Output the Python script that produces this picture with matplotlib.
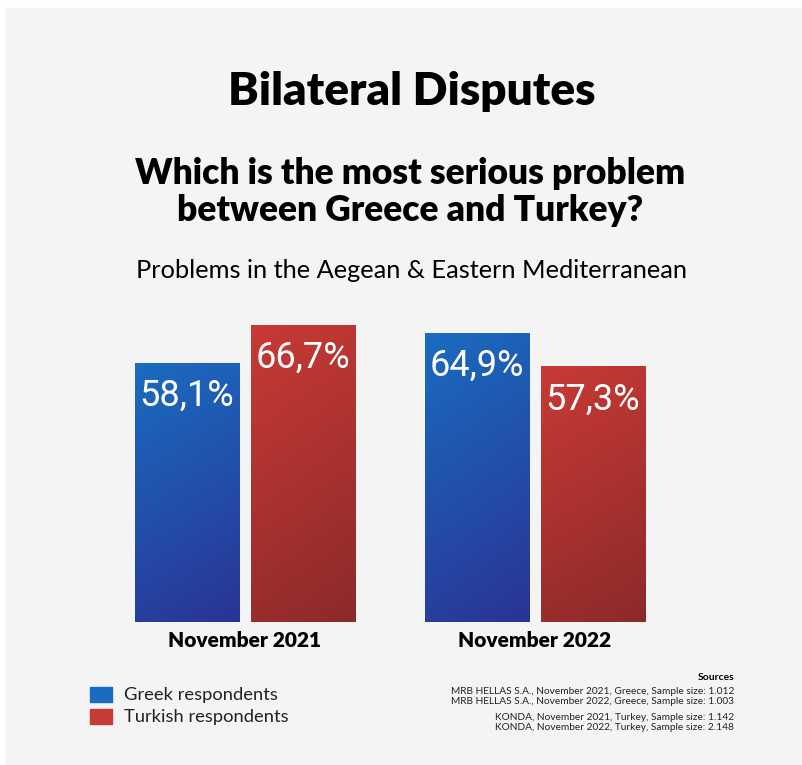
import numpy as np
import matplotlib
matplotlib.use('Agg')
import matplotlib.pyplot as plt
from matplotlib.patches import Rectangle
from matplotlib.colors import LinearSegmentedColormap

periods = ['November 2021', 'November 2022']
greek = [58.1, 64.9]
turkish = [66.7, 57.3]
series_names = ['Greek respondents', 'Turkish respondents']
sources = [
    'MRB HELLAS S.A., November 2021, Greece, Sample size: 1.012',
    'MRB HELLAS S.A., November 2022, Greece, Sample size: 1.003',
    'KONDA, November 2021, Turkey, Sample size: 1.142',
    'KONDA, November 2022, Turkey, Sample size: 2.148',
]

W, H = 803, 765
BG = '#f4f4f4'
BLUE_TOP, BLUE_BOT = '#1a6cc0', '#2a3396'
RED_TOP, RED_BOT = '#c83a35', '#8c2a2a'
HEAD = 'Lato'
NUM = 'Roboto'


def px(x, y):
    """pixel position (from top-left) to figure fraction"""
    return x / W, 1 - y / H


def gradient_fill(ax, bar, top, bot):
    """paint a top-left -> bottom-right gradient clipped to the bar"""
    cmap = LinearSegmentedColormap.from_list('g', [top, bot])
    yy, xx = np.mgrid[0:1:200j, 0:1:50j]
    grad = yy * 0.8 + xx * 0.2
    x0, w, h = bar.get_x(), bar.get_width(), bar.get_height()
    im = ax.imshow(grad, cmap=cmap, extent=(x0, x0 + w, 0, h),
                   origin='upper', aspect='auto', zorder=2,
                   interpolation='bilinear')
    im.set_clip_path(bar)


fig = plt.figure(figsize=(W / 100, H / 100), dpi=100)
fig.patch.set_facecolor('white')
fig.patches.append(Rectangle(px(6, H), (W - 6) / W, (H - 8) / H,
                             transform=fig.transFigure, color=BG,
                             zorder=-5))

# titles
fig.text(*px(412, 92), 'Bilateral Disputes', ha='center', va='center',
         family=HEAD, weight='heavy', fontsize=33)
fig.text(*px(410, 192), 'Which is the most serious problem\nbetween Greece and Turkey?',
         ha='center', va='center', family=HEAD, weight='heavy',
         fontsize=25.5, linespacing=1.12)
fig.text(*px(412, 270), 'Problems in the Aegean & Eastern Mediterranean',
         ha='center', va='center', family=HEAD, fontsize=18.3)

# bar area: baseline at y=622, group spacing 290px
scale = 4.46
top_val = 75
ax = fig.add_axes([100 / W, (H - 622) / H, 580 / W, top_val * scale / H])
ax.set_xlim(-0.5, 1.5)
ax.set_ylim(0, top_val)
ax.axis('off')

x = np.arange(len(periods))
bw = 0.362
off = 0.2
bars_g = ax.bar(x - off, greek, bw, color='none', edgecolor='none')
bars_t = ax.bar(x + off, turkish, bw, color='none', edgecolor='none')

for bars, vals, top, bot in [(bars_g, greek, BLUE_TOP, BLUE_BOT),
                             (bars_t, turkish, RED_TOP, RED_BOT)]:
    for b, v in zip(bars, vals):
        gradient_fill(ax, b, top, bot)
        ax.text(b.get_x() + b.get_width() / 2, v - 3.4,
                f'{v:.1f}%'.replace('.', ','), ha='center', va='top',
                color='white', family=NUM, fontsize=26, zorder=3)

for xi, p in zip(x, periods):
    ax.text(xi, -2.0, p, ha='center', va='top', family=HEAD,
            weight='heavy', fontsize=15, clip_on=False)

# legend
for i, (name, c) in enumerate(zip(series_names, [BLUE_TOP, RED_TOP])):
    y = 695 + i * 22
    fig.patches.append(Rectangle(px(90, y + 7), 22 / W, 15 / H,
                                 transform=fig.transFigure, color=c))
    fig.text(*px(124, y), name, ha='left', va='center', family=HEAD,
             fontsize=13.2, color='#222222')

# sources block
fig.text(*px(734, 677), 'Sources', ha='right', va='center', family=HEAD,
         weight='bold', fontsize=7.5)
for s, y in zip(sources, [691, 702, 717, 728]):
    fig.text(*px(734, y), s, ha='right', va='center', family=HEAD,
             fontsize=7.3, color='#222222')

fig.savefig('out.png', dpi=100, facecolor=fig.get_facecolor())
